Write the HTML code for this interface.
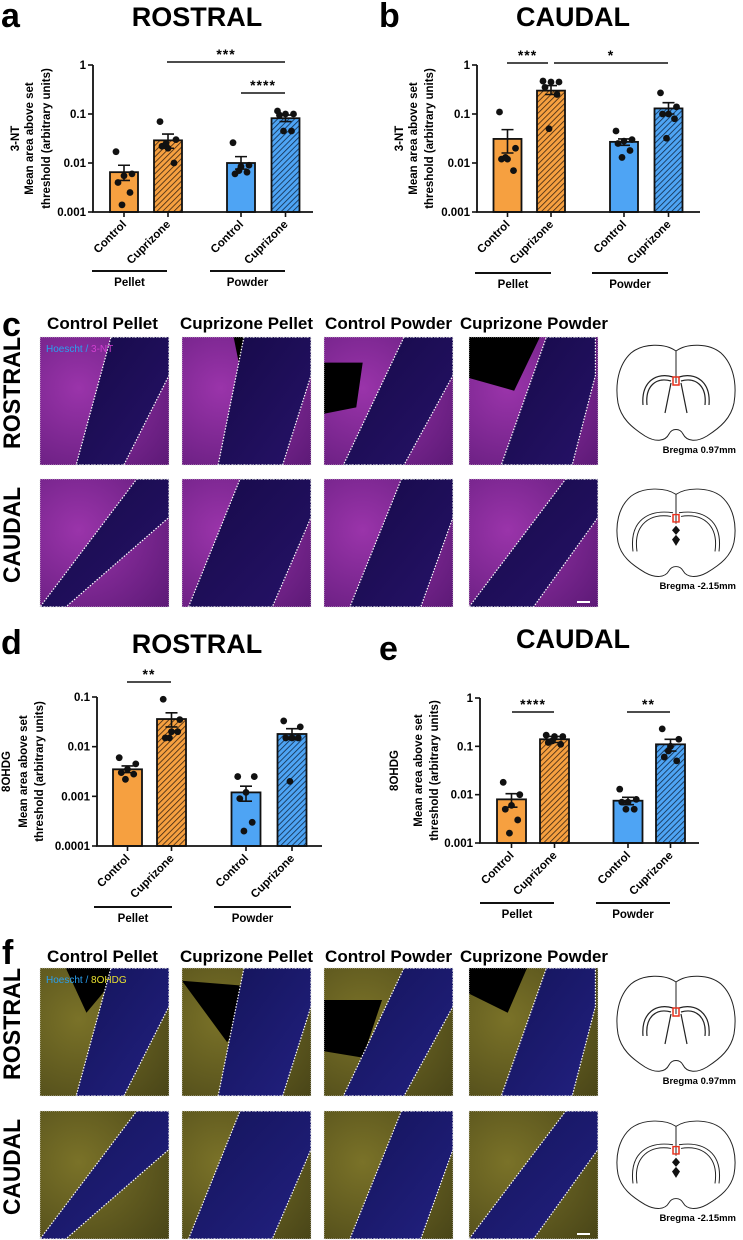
<!DOCTYPE html>
<html><head><meta charset="utf-8">
<style>
html,body{margin:0;padding:0;background:#fff;}
svg{display:block;font-family:"Liberation Sans",sans-serif;}
</style></head>
<body>
<svg id="fig" width="743" height="1240" viewBox="0 0 743 1240" xmlns="http://www.w3.org/2000/svg">
<defs>
<pattern id="hatchO" patternUnits="userSpaceOnUse" width="4" height="4" patternTransform="rotate(45)">
<rect width="4" height="4" fill="#f6a040"/><line x1="0" y1="0" x2="0" y2="4" stroke="#3a2410" stroke-width="1.6"/></pattern>
<pattern id="hatchB" patternUnits="userSpaceOnUse" width="4" height="4" patternTransform="rotate(45)">
<rect width="4" height="4" fill="#4ea4f4"/><line x1="0" y1="0" x2="0" y2="4" stroke="#102a48" stroke-width="1.6"/></pattern>
<radialGradient id="magTissue" cx="0.3" cy="0.4" r="0.9"><stop offset="0" stop-color="#9a34aa"/><stop offset="1" stop-color="#5e1a78"/></radialGradient>
<radialGradient id="yelTissue" cx="0.3" cy="0.4" r="0.9"><stop offset="0" stop-color="#7a7228"/><stop offset="1" stop-color="#4a4618"/></radialGradient>
<linearGradient id="bandM" x1="0" y1="0" x2="1" y2="1"><stop offset="0" stop-color="#160a48"/><stop offset="1" stop-color="#261268"/></linearGradient>
<linearGradient id="bandY" x1="0" y1="0" x2="1" y2="1"><stop offset="0" stop-color="#14145a"/><stop offset="1" stop-color="#222080"/></linearGradient>
</defs>
<g id="root"></g>
</svg>
<script>
// ---------- chart data ----------
const categories = ["Control","Cuprizone","Control","Cuprizone"];
const groupNames = ["Pellet","Powder"];
const yTicksA = ["1","0.1","0.01","0.001"];
const yTicksD = ["0.1","0.01","0.001","0.0001"];

const aMeans = [0.0065, 0.029, 0.010, 0.082];
const aErrHi = [0.009, 0.039, 0.0135, 0.095];
const aErrLo = [0.0044, 0.020, 0.0075, 0.070];
const aPts0 = [0.017, 0.006, 0.0055, 0.004, 0.0025, 0.0014];
const aPts1 = [0.07, 0.03, 0.02, 0.022, 0.01, 0.025];
const aPts2 = [0.026, 0.009, 0.0085, 0.006, 0.0065, 0.007];
const aPts3 = [0.115, 0.1, 0.1, 0.095, 0.045, 0.045];

const bMeans = [0.031, 0.30, 0.027, 0.13];
const bErrHi = [0.048, 0.38, 0.031, 0.17];
const bErrLo = [0.016, 0.25, 0.023, 0.10];
const bPts0 = [0.11, 0.02, 0.012, 0.012, 0.007, 0.013];
const bPts1 = [0.47, 0.45, 0.45, 0.35, 0.25, 0.05];
const bPts2 = [0.045, 0.03, 0.028, 0.025, 0.018, 0.013];
const bPts3 = [0.27, 0.14, 0.1, 0.1, 0.08, 0.032];

const dMeans = [0.0035, 0.036, 0.0012, 0.018];
const dErrHi = [0.0041, 0.048, 0.0016, 0.023];
const dErrLo = [0.0030, 0.025, 0.0008, 0.014];
const dPts0 = [0.006, 0.0045, 0.0035, 0.003, 0.0028, 0.0022];
const dPts1 = [0.09, 0.035, 0.02, 0.015, 0.02, 0.015];
const dPts2 = [0.0025, 0.0025, 0.0012, 0.0009, 0.0003, 0.0002];
const dPts3 = [0.033, 0.025, 0.015, 0.015, 0.015, 0.002];

const eMeans = [0.008, 0.14, 0.0075, 0.11];
const eErrHi = [0.0105, 0.16, 0.0088, 0.14];
const eErrLo = [0.0055, 0.12, 0.0062, 0.08];
const ePts0 = [0.018, 0.010, 0.006, 0.005, 0.003, 0.0016];
const ePts1 = [0.17, 0.16, 0.16, 0.12, 0.11, 0.13];
const ePts2 = [0.013, 0.008, 0.007, 0.007, 0.005, 0.005];
const ePts3 = [0.23, 0.14, 0.10, 0.06, 0.05, 0.08];

// ---------- helpers ----------
const NS = "http://www.w3.org/2000/svg";
const root = document.getElementById("root");
function mk(tag, attrs, parent){
  const e = document.createElementNS(NS, tag);
  for (const k in attrs) e.setAttribute(k, attrs[k]);
  (parent||root).appendChild(e);
  return e;
}
function txt(s, attrs, parent){
  const t = mk("text", attrs, parent);
  t.textContent = s;
  return t;
}

const jitter = [-8, 8, 0, -6, 6, -2];
const fills = ["#f6a040","url(#hatchO)","#4ea4f4","url(#hatchB)"];

function drawChart(cfg){
  const g = mk("g", {});
  
  
  const span = cfg.decTop - cfg.decBot;
  const yPx = v => cfg.yTop + (cfg.decTop - Math.log10(v)) / span * (cfg.yBot - cfg.yTop);
  for (let i=0;i<categories.length;i++){
    const cx = cfg.centers[i], w = cfg.barW;
    const yb = yPx(cfg.means[i]);
    const r = mk("rect",{x:cx-w/2,y:yb,width:w,height:cfg.yBot-yb,fill:fills[i],stroke:"#111","stroke-width":1.8},g);
    
    
    const hi = yPx(cfg.hi[i]), lo = yPx(cfg.lo[i]);
    const eb = mk("path",{d:`M${cx},${hi}V${lo}M${cx-6},${hi}H${cx+6}M${cx-6},${lo}H${cx+6}`,stroke:"#111","stroke-width":1.6,fill:"none"},g);
    
    
    cfg.pts[i].forEach((v,j)=>{
      const c = mk("circle",{cx:cx+jitter[j]*cfg.barW/28,cy:yPx(v),r:3.4,fill:"#111"},g);
      
      
    });
  }
  const ax = mk("path",{d:`M${cfg.x0},${cfg.yTop}V${cfg.yBot}H${cfg.xEnd}`,stroke:"#111","stroke-width":1.8,fill:"none"},g);
  
  
  cfg.ticks.forEach((t,k)=>{
    const y = cfg.yTop + k*(cfg.yBot-cfg.yTop)/(cfg.ticks.length-1);
    mk("line",{x1:cfg.x0-5,x2:cfg.x0,y1:y,y2:y,stroke:"#111","stroke-width":1.6},g);
    const tl = txt(t,{x:cfg.x0-7,y:y+4,"text-anchor":"end","font-size":11.5,"font-weight":"bold"},g);
    
    
  });
  for (let i=0;i<categories.length;i++){
    const cx = cfg.centers[i];
    mk("line",{x1:cx,x2:cx,y1:cfg.yBot,y2:cfg.yBot+5,stroke:"#111","stroke-width":1.6},g);
    const cl = txt(categories[i],{x:cx+3,y:cfg.yBot+13,"text-anchor":"end","font-size":11.5,"font-weight":"bold",transform:`rotate(-45 ${cx+3} ${cfg.yBot+13})`},g);
    
    
  }
  cfg.groups.forEach((gr,k)=>{
    mk("line",{x1:gr[0],x2:gr[1],y1:cfg.gy,y2:cfg.gy,stroke:"#111","stroke-width":2},g);
    const gl = txt(groupNames[k],{x:(gr[0]+gr[1])/2,y:cfg.gy+15,"text-anchor":"middle","font-size":11.5,"font-weight":"bold"},g);
    
    
  });
  cfg.sig.forEach(s=>{
    mk("line",{x1:s[0],x2:s[1],y1:s[2],y2:s[2],stroke:"#111","stroke-width":1.6},g);
    const st = txt(s[3],{x:(s[0]+s[1])/2,y:s[2]-3,"text-anchor":"middle","font-size":14,"font-weight":"bold","letter-spacing":"1"},g);
    
    
  });
  const cy = (cfg.yTop+cfg.yBot)/2;
  const l1 = txt(cfg.marker,{x:cfg.ylx[0],y:cy,"text-anchor":"middle","font-size":11.5,"font-weight":"bold",transform:`rotate(-90 ${cfg.ylx[0]} ${cy})`},g);
  
  
  const l2 = txt("Mean area above set",{x:cfg.ylx[1],y:cy,"text-anchor":"middle","font-size":11.5,"font-weight":"bold",transform:`rotate(-90 ${cfg.ylx[1]} ${cy})`},g);
  
  
  const l3 = txt("threshold (arbitrary units)",{x:cfg.ylx[2],y:cy,"text-anchor":"middle","font-size":11.5,"font-weight":"bold",transform:`rotate(-90 ${cfg.ylx[2]} ${cy})`},g);
  
  
}

function panelLetter(s,x,y){
  const t = txt(s,{x:x,y:y,"font-size":34,"font-weight":"bold"});
  
  
}
function title(s,x,y,name){
  const t = txt(s,{x:x,y:y,"text-anchor":"middle","font-size":27,"font-weight":"bold"});
  
  
}

panelLetter("a",1,27); title("ROSTRAL",197,26,"title-a");
panelLetter("b",379,27); title("CAUDAL",573,26,"title-b");
panelLetter("d",1,654); title("ROSTRAL",197,653,"title-d");
panelLetter("e",379,660); title("CAUDAL",573,648,"title-e");

drawChart({id:"a",name:"chart-a-rostral-3nt",x0:93,xEnd:313,yTop:65,yBot:212,decTop:0,decBot:-3,centers:[124,168,241,285.5],barW:28,
  means:aMeans,hi:aErrHi,lo:aErrLo,pts:[aPts0,aPts1,aPts2,aPts3],ticks:yTicksA,
  groups:[[92,167],[210,285]],gy:271,sig:[[167,285,62,"***"],[241,285,93,"****"]],marker:"3-NT",ylx:[19,33,50]});
drawChart({id:"b",name:"chart-b-caudal-3nt",x0:477,xEnd:700,yTop:65,yBot:212,decTop:0,decBot:-3,centers:[507.5,551,624,668.5],barW:28,
  means:bMeans,hi:bErrHi,lo:bErrLo,pts:[bPts0,bPts1,bPts2,bPts3],ticks:yTicksA,
  groups:[[475,551],[592,668]],gy:273,sig:[[507,548,63,"***"],[554,668,63,"*"]],marker:"3-NT",ylx:[403,417,433]});
drawChart({id:"d",name:"chart-d-rostral-8ohdg",x0:97,xEnd:322,yTop:697,yBot:846,decTop:-1,decBot:-4,centers:[127.5,171.5,246,292],barW:29,
  means:dMeans,hi:dErrHi,lo:dErrLo,pts:[dPts0,dPts1,dPts2,dPts3],ticks:yTicksD,
  groups:[[94,172],[214,291]],gy:907,sig:[[127,171,682,"**"]],marker:"8OHDG",ylx:[10,27,43]});
drawChart({id:"e",name:"chart-e-caudal-8ohdg",x0:480,xEnd:699,yTop:698,yBot:843,decTop:0,decBot:-3,centers:[511.5,554.5,628,670.5],barW:29,
  means:eMeans,hi:eErrHi,lo:eErrLo,pts:[ePts0,ePts1,ePts2,ePts3],ticks:yTicksA,
  groups:[[480,554],[596,670]],gy:903,sig:[[512,554,712,"****"],[627,670,712,"**"]],marker:"8OHDG",ylx:[398,422,438]});

// ---------- micrographs ----------
const colX = [40,182,324,469];
const colTitles = ["Control Pellet","Cuprizone Pellet","Control Powder","Cuprizone Powder"];
const titleSpans = [[47,158],[180,313],[325,452],[460,608]];
const bandsRow1 = [[0.55,1.0,0.65,0.28],[0.48,1.0,0.78,0.28],[0.62,1.0,0.62,0.15],[0.6,0.98,0.8,0.25]];
const bandsRow2 = [[0.75,1.0,0.2,0.0],[0.45,1.0,0.7,0.05],[0.6,1.0,0.75,0.2],[0.75,1.0,0.5,0.0]];

function micro(x,y,w,h,band,kind,name,dark){
  const g = mk("g",{});
  
  
  mk("rect",{x:x,y:y,width:w,height:h,fill:kind==="m"?"url(#magTissue)":"url(#yelTissue)"},g);
  if (dark) mk("path",{d:dark.map((p,i)=>(i?"L":"M")+(x+p[0]*w)+","+(y+p[1]*h)).join("")+"Z",fill:"#000"},g);
  const pts = [[x+band[0]*w,y],[x+band[1]*w,y],[x+band[1]*w,y+0.3*h],[x+band[2]*w,y+h],[x+band[3]*w,y+h]];
  mk("polygon",{points:pts.map(p=>p.join(",")).join(" "),fill:kind==="m"?"url(#bandM)":"url(#bandY)",stroke:"#fff","stroke-width":1.2,"stroke-dasharray":"1.5 1.5"},g);
  mk("rect",{x:x,y:y,width:w,height:h,fill:"none",stroke:"#ddd","stroke-width":0.8,"stroke-dasharray":"1 1"},g);
}
const darkR1 = [null,[[0.4,0],[0.5,0],[0.45,0.25]],[[0,0.2],[0.3,0.2],[0.25,0.55],[0,0.6]],[[0,0],[0.55,0],[0.35,0.42],[0,0.32]]];
const darkF1 = [[[0.2,0],[0.65,0],[0.36,0.35]],[[0,0.1],[0.62,0.15],[0.35,0.58]],[[0,0.25],[0.45,0.25],[0.3,0.7],[0,0.65]],[[0,0],[0.45,0],[0.3,0.35],[0,0.2]]];

function microBlock(kind, y1, y2, titleY, legendA, legendB, legColor){
  colTitles.forEach((s,i)=>{
    const t = txt(s,{x:titleSpans[i][0],y:titleY,"font-size":17,"font-weight":"bold",textLength:titleSpans[i][1]-titleSpans[i][0],lengthAdjust:"spacingAndGlyphs"});
    
    
  });
  colX.forEach((x,i)=>{
    micro(x,y1,129,128,bandsRow1[i],kind,"micrograph-rostral-"+i,kind==="m"?darkR1[i]:darkF1[i]);
    micro(x,y2,129,128,bandsRow2[i],kind,"micrograph-caudal-"+i,null);
  });
  const leg = mk("text",{x:46,y:y1+15,"font-size":10});
  
  
  const s1 = mk("tspan",{fill:"#2aa0f0"},leg); s1.textContent = legendA;
  const s2 = mk("tspan",{fill:legColor},leg); s2.textContent = legendB;
  mk("line",{x1:577,x2:590,y1:y2+123,y2:y2+123,stroke:"#fff","stroke-width":2});
  [["ROSTRAL",y1+64,112],["CAUDAL",y2+64,96]].forEach(r=>{
    const t = txt(r[0],{x:28,y:r[1],"text-anchor":"middle","font-size":24,"font-weight":"bold",textLength:r[2],lengthAdjust:"spacingAndGlyphs",transform:`rotate(-90 20 ${r[1]}) translate(0 0)`});
    
    
  });
  brain(615,y1+6,false,"Bregma 0.97mm",y1+116);
  brain(615,y2+8,true,"Bregma -2.15mm",y2+110);
}
function brain(x,y,caudal,label,ly){
  const g = mk("g",{transform:`translate(${x},${y})`});
  
  
  const s = caudal ? 0.92 : 1;
  const gi = mk("g",{transform:`scale(1,${s})`},g);
  mk("path",{d:"M61,8 C50,0 28,0 16,10 C3,22 0,42 3,60 C6,75 16,84 30,93 C40,99 50,99 54,91 C57,85 65,85 68,91 C72,99 82,99 92,93 C106,84 116,75 119,60 C122,42 119,22 106,10 C94,0 72,0 61,8 Z M61,8 V40",fill:"none",stroke:"#222","stroke-width":1},gi);
  if (!caudal){
    mk("path",{d:"M32,62 C30,42 42,34 56,38 M28,62 C26,38 42,29 58,34 M90,62 C92,42 80,34 66,38 M94,62 C96,38 80,29 64,34 M56,40 L50,70 M66,40 L72,70",fill:"none",stroke:"#222","stroke-width":1.2},gi);
  } else {
    mk("path",{d:"M22,70 C18,40 36,28 56,32 M18,70 C14,36 34,24 58,28 M100,70 C104,40 86,28 66,32 M104,70 C108,36 88,24 64,28",fill:"none",stroke:"#222","stroke-width":1},gi);
    mk("path",{d:"M61,42 L57,47 L61,52 L57,57 L61,64 L65,57 L61,52 L65,47 Z",fill:"#111"},gi);
  }
  mk("rect",{x:58,y:caudal?30:34,width:6,height:8,fill:"none",stroke:"#e8301c","stroke-width":1.5},gi);
  const t = txt(label,{x:x+121,y:ly,"text-anchor":"end","font-size":9.5,"font-weight":"bold"});
  
  
}

panelLetter("c",2,336);
microBlock("m",337,479,329,"Hoescht / ","3-NT","#d040d0");
panelLetter("f",2,964);
microBlock("y",968,1111,962,"Hoescht / ","8OHDG","#e8e030");
</script>
</body></html>
